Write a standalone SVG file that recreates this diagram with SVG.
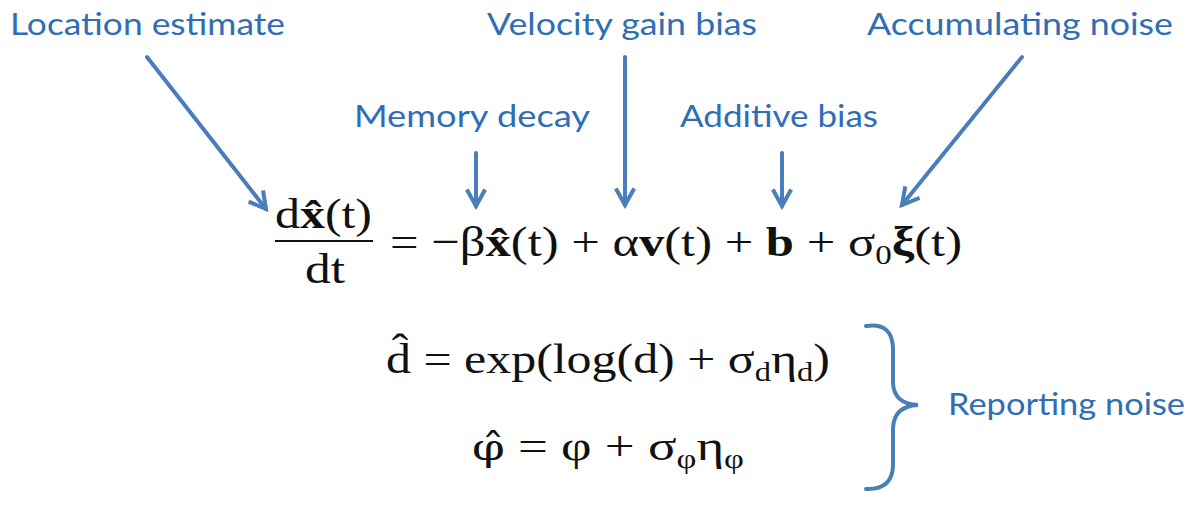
<svg xmlns="http://www.w3.org/2000/svg" width="1200" height="506" viewBox="0 0 1200 506">
<style>
.lbl{font-family:"Lato","Liberation Sans",sans-serif;font-size:30px;fill:#2f6eb5}
.m{font-family:"Liberation Serif","DejaVu Serif",serif;font-size:43px;fill:#111}
.b{font-weight:bold}
.sub{font-size:28px}
.dj{font-family:"DejaVu Serif",serif;font-size:38px}
.conn{stroke:#4a7ebb;stroke-width:4;fill:none;stroke-linecap:round}
</style>
<defs>
<marker id="ah" viewBox="0 0 12 12" refX="10" refY="6" markerWidth="22" markerHeight="22" markerUnits="userSpaceOnUse" orient="auto">
<path d="M1,1 L10,6 L1,11" fill="none" stroke="#4a7ebb" stroke-width="2.2" stroke-linejoin="miter"/>
</marker>
</defs>
<rect width="1200" height="506" fill="#fff"/>
<g id="connectors">
<line class="conn" x1="147" y1="57" x2="266" y2="209" marker-end="url(#ah)"/>
<line class="conn" x1="625" y1="57" x2="625" y2="205" marker-end="url(#ah)"/>
<line class="conn" x1="476" y1="153" x2="476" y2="206" marker-end="url(#ah)"/>
<line class="conn" x1="782" y1="153" x2="782" y2="206" marker-end="url(#ah)"/>
<line class="conn" x1="1022" y1="57" x2="902" y2="205" marker-end="url(#ah)"/>
<path class="conn" d="M866,326 Q892,322 893,348 L893,383 Q894,404 918,405 Q894,406 893,428 L893,466 Q892,490 866,489"/>
</g>
<g id="label-location"><text class="lbl" x="10" y="35" textLength="275" lengthAdjust="spacingAndGlyphs">Location estimate</text></g>
<g id="label-velocity"><text class="lbl" x="487" y="35" textLength="270" lengthAdjust="spacingAndGlyphs">Velocity gain bias</text></g>
<g id="label-accum"><text class="lbl" x="867" y="35" textLength="306" lengthAdjust="spacingAndGlyphs">Accumulating noise</text></g>
<g id="label-memory"><text class="lbl" x="354" y="127" textLength="236" lengthAdjust="spacingAndGlyphs">Memory decay</text></g>
<g id="label-additive"><text class="lbl" x="680" y="127" textLength="198" lengthAdjust="spacingAndGlyphs">Additive bias</text></g>
<g id="label-reporting"><text class="lbl" x="948" y="415" textLength="237" lengthAdjust="spacingAndGlyphs">Reporting noise</text></g>
<g id="equation-main">
<text class="m" x="275" y="228" textLength="97" lengthAdjust="spacingAndGlyphs">d<tspan class="b">x̂</tspan>(t)</text>
<line x1="275" y1="241" x2="373" y2="241" stroke="#111" stroke-width="2.2"/>
<text class="m" x="305" y="283" textLength="40" lengthAdjust="spacingAndGlyphs">dt</text>
<text class="m" x="390" y="256" textLength="572" lengthAdjust="spacingAndGlyphs">= −β<tspan class="b">x̂</tspan>(t) + α<tspan class="b">v</tspan>(t) + <tspan class="b">b</tspan> + σ<tspan class="sub" dy="8">0</tspan><tspan class="b" dy="-8">ξ</tspan>(t)</text>
</g>
<g id="equation-d">
<text class="m" x="386" y="373" textLength="444" lengthAdjust="spacingAndGlyphs">d̂ = exp(log(d) + σ<tspan class="sub" dy="8">d</tspan><tspan dy="-8">η</tspan><tspan class="sub" dy="8">d</tspan><tspan dy="-8">)</tspan></text>
</g>
<g id="equation-phi">
<text class="m" x="472" y="460" textLength="272" lengthAdjust="spacingAndGlyphs"><tspan class="dj">φ̂</tspan> = φ + σ<tspan class="sub" dy="8">φ</tspan><tspan dy="-8">η</tspan><tspan class="sub" dy="8">φ</tspan></text>
</g>
</svg>
